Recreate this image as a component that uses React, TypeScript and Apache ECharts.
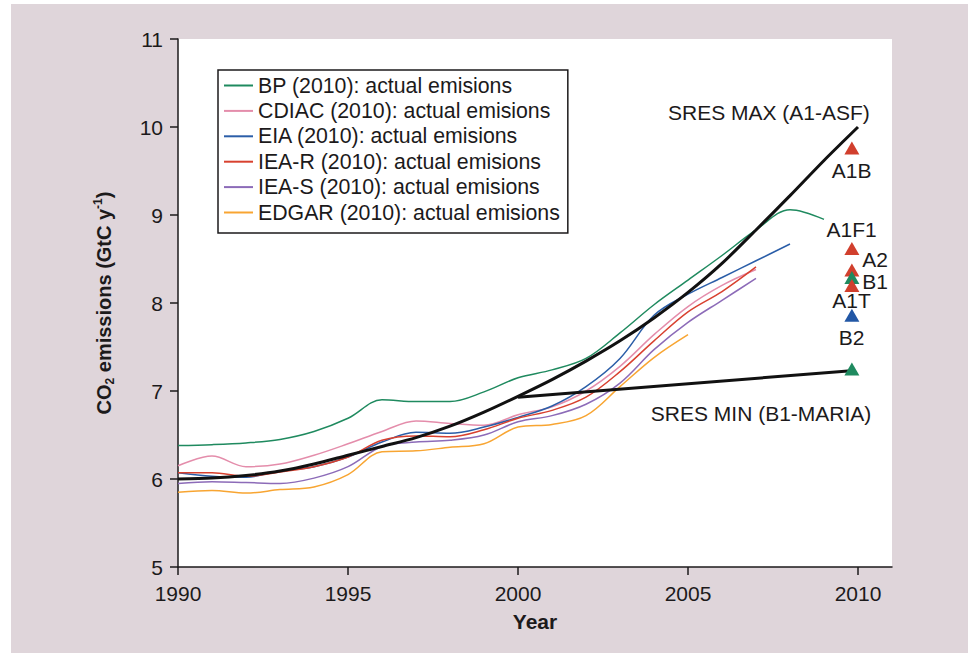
import React, { useEffect, useRef } from "react";
import * as echarts from "echarts";

const years = [1990, 1991, 1992, 1993, 1994, 1995, 1996, 1997, 1998, 1999, 2000, 2001, 2002, 2003, 2004, 2005, 2006, 2007, 2008, 2009, 2010];

const bpValues = [6.38, 6.39, 6.41, 6.45, 6.54, 6.69, 6.9, 6.88, 6.88, 6.99, 7.15, 7.24, 7.37, 7.66, 7.98, 8.26, 8.54, 8.83, 9.06, 8.95];
const cdiacValues = [6.15, 6.26, 6.14, 6.17, 6.27, 6.4, 6.54, 6.66, 6.63, 6.61, 6.73, 6.82, 7.0, 7.28, 7.64, 7.96, 8.2, 8.38];
const eiaValues = [6.07, 6.03, 6.02, 6.09, 6.14, 6.25, 6.42, 6.53, 6.52, 6.59, 6.7, 6.83, 7.05, 7.37, 7.86, 8.1, 8.29, 8.48, 8.67];
const iearValues = [6.07, 6.07, 6.03, 6.08, 6.14, 6.25, 6.44, 6.49, 6.48, 6.56, 6.69, 6.78, 6.93, 7.22, 7.57, 7.9, 8.13, 8.41];
const ieasValues = [5.95, 5.97, 5.96, 5.95, 6.01, 6.14, 6.37, 6.42, 6.44, 6.5, 6.65, 6.72, 6.85, 7.09, 7.47, 7.78, 8.03, 8.28];
const edgarValues = [5.85, 5.87, 5.84, 5.88, 5.91, 6.05, 6.31, 6.32, 6.36, 6.4, 6.59, 6.62, 6.72, 7.05, 7.38, 7.64];
const sresMaxValues = [6.0, 6.01, 6.04, 6.09, 6.17, 6.27, 6.37, 6.47, 6.6, 6.76, 6.94, 7.13, 7.34, 7.57, 7.83, 8.12, 8.45, 8.83, 9.22, 9.62, 10.0];
const sresMinPoints = [[2000, 6.93], [2009.8, 7.23]];

const scenarioYear = 2009.82;
const redTriangles = [9.76, 8.62, 8.375];
const greenTriangles = [8.29, 7.25];
const redFrontTriangles = [8.2];
const blueTriangles = [7.86];

const scenarioLabels = [
  [2009.81, 9.51, "A1B"],
  [2009.81, 8.83, "A1F1"],
  [2010.5, 8.49, "A2"],
  [2010.5, 8.25, "B1"],
  [2009.81, 8.03, "A1T"],
  [2009.81, 7.61, "B2"],
  [2007.38, 10.17, "SRES MAX (A1-ASF)"],
  [2007.15, 6.75, "SRES MIN (B1-MARIA)"],
];

const xTicks = [1990, 1995, 2000, 2005, 2010];

const seriesNames = [
  "BP (2010): actual emisions",
  "CDIAC (2010): actual emisions",
  "EIA (2010): actual emisions",
  "IEA-R (2010): actual emisions",
  "IEA-S (2010): actual emisions",
  "EDGAR (2010): actual emisions",
];
const seriesColors = ["#1f8a5f", "#e48dab", "#2b5ea8", "#d8412f", "#8c6bb8", "#f8a532"];
const seriesValues = [bpValues, cdiacValues, eiaValues, iearValues, ieasValues, edgarValues];

const FONT = "'Liberation Sans', Arial, Helvetica, sans-serif";
const INK = "#1c1a1b";

const pairs = (vals: number[]) => vals.map((v, i) => [years[i], v]);
const tri = (vals: number[]) => vals.map((v) => [scenarioYear, v]);

export default function App() {
  const ref = useRef<HTMLDivElement>(null);
  useEffect(() => {
    if (!ref.current) return;
    const chart = echarts.init(ref.current, undefined, { renderer: "svg" });
    const lineSeries = seriesNames.map((name, i) => ({
      name,
      type: "line",
      data: pairs(seriesValues[i]),
      smooth: 0.35,
      showSymbol: false,
      symbol: "none",
      color: seriesColors[i],
      lineStyle: { width: 1.5, color: seriesColors[i] },
      z: 2,
    }));
    const triSeries = (data: number[][], color: string, z: number) => ({
      type: "scatter",
      data,
      symbol: "triangle",
      symbolSize: [15, 13],
      itemStyle: { color, opacity: 1 },
      z,
    });
    chart.setOption({
      animation: false,
      textStyle: { fontFamily: FONT },
      grid: {
        left: 178,
        right: 79,
        top: 39,
        bottom: 86,
        show: true,
        backgroundColor: "#ffffff",
        borderWidth: 0,
      },
      legend: {
        orient: "vertical",
        left: 218,
        top: 70,
        padding: [5, 8, 10, 6],
        itemGap: 4.4,
        itemWidth: 29,
        itemHeight: 2,
        icon: "rect",
        borderColor: INK,
        borderWidth: 1.5,
        backgroundColor: "#ffffff",
        textStyle: { fontSize: 21.3, color: INK, lineHeight: 21, fontFamily: FONT },
        data: seriesNames,
      },
      xAxis: {
        type: "value",
        min: 1990,
        max: 2011,
        interval: 5,
        name: "Year",
        nameLocation: "middle",
        nameGap: 44,
        nameTextStyle: { fontSize: 21, fontWeight: "bold", color: INK, fontFamily: FONT },
        axisLine: { show: true, onZero: false, lineStyle: { color: INK, width: 1.5 } },
        axisTick: { show: true, length: 8, customValues: xTicks, lineStyle: { color: INK, width: 1.5 } },
        axisLabel: {
          fontSize: 21,
          color: INK,
          margin: 16,
          customValues: xTicks,
          fontFamily: FONT,
          formatter: (v: number) => String(v),
        },
        splitLine: { show: false },
      },
      yAxis: {
        type: "value",
        min: 5,
        max: 11,
        interval: 1,
        name: "{b|CO}{sub|2}{b| emissions (GtC y}{sup|-1}{b|)}",
        nameLocation: "middle",
        nameGap: 62,
        nameTextStyle: {
          color: INK,
          rich: {
            b: { fontSize: 20, fontWeight: "bold", color: INK, fontFamily: FONT, lineHeight: 24, verticalAlign: "middle" },
            sub: { fontSize: 12, fontWeight: "bold", color: INK, fontFamily: FONT, lineHeight: 12, verticalAlign: "bottom" },
            sup: { fontSize: 12, fontWeight: "bold", color: INK, fontFamily: FONT, lineHeight: 12, verticalAlign: "top" },
          },
        },
        axisLine: { show: true, onZero: false, lineStyle: { color: INK, width: 1.5 } },
        axisTick: { show: true, length: 8, lineStyle: { color: INK, width: 1.5 } },
        axisLabel: { fontSize: 21, color: INK, margin: 15, fontFamily: FONT },
        splitLine: { show: false },
      },
      series: [
        ...lineSeries,
        {
          name: "SRES MAX",
          type: "line",
          data: pairs(sresMaxValues),
          smooth: 0.3,
          showSymbol: false,
          symbol: "none",
          lineStyle: { width: 3, color: "#111111" },
          z: 3,
        },
        {
          name: "SRES MIN",
          type: "line",
          data: sresMinPoints,
          showSymbol: false,
          symbol: "none",
          lineStyle: { width: 3, color: "#111111" },
          z: 3,
        },
        triSeries(tri(redTriangles), "#d13f2d", 4),
        triSeries(tri(greenTriangles), "#1f8a5f", 5),
        triSeries(tri(redFrontTriangles), "#d13f2d", 6),
        triSeries(tri(blueTriangles), "#2257a5", 6),
        {
          type: "scatter",
          data: scenarioLabels,
          symbolSize: 0,
          itemStyle: { color: "#ffffff", opacity: 0 },
          label: {
            show: true,
            position: "inside",
            formatter: (p: any) => p.data[2],
            fontSize: 21,
            color: INK,
            opacity: 1,
            textBorderWidth: 0,
            fontFamily: FONT,
          },
          z: 7,
        },
      ],
    });
    return () => chart.dispose();
  }, []);

  return (
    <div style={{ position: "fixed", left: 0, top: 0, width: 971, height: 653, background: "#ffffff" }}>
      <div style={{ position: "absolute", left: 11, top: 4, width: 957, height: 649, background: "#dfd5da" }} />
      <div ref={ref} style={{ position: "absolute", left: 0, top: 0, width: 971, height: 653 }} />
    </div>
  );
}
